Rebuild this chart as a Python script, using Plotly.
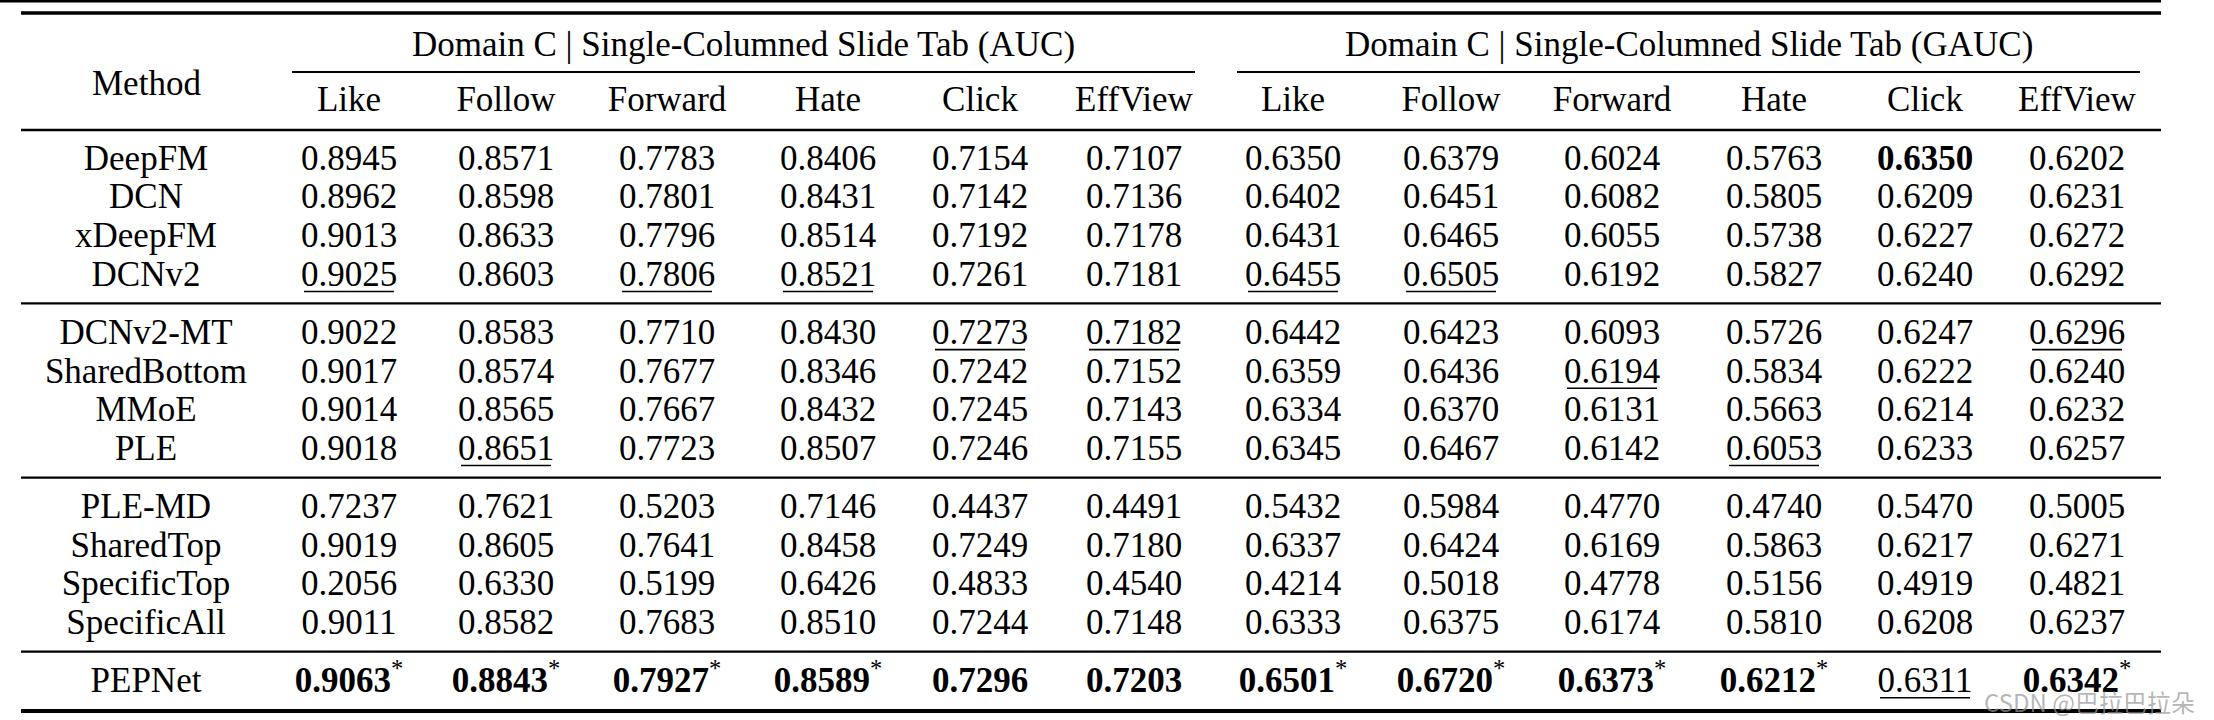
import plotly.graph_objects as go

# ---------------- data ----------------
methods = ["DeepFM", "DCN", "xDeepFM", "DCNv2",
           "DCNv2-MT", "SharedBottom", "MMoE", "PLE",
           "PLE-MD", "SharedTop", "SpecificTop", "SpecificAll",
           "PEPNet"]
method_group = [0, 0, 0, 0, 1, 1, 1, 1, 2, 2, 2, 2, 3]
tasks = ["Like", "Follow", "Forward", "Hate", "Click", "EffView"]
group_titles = ["Domain C | Single-Columned Slide Tab (AUC)",
                "Domain C | Single-Columned Slide Tab (GAUC)"]

auc_like    = [0.8945, 0.8962, 0.9013, 0.9025, 0.9022, 0.9017, 0.9014, 0.9018, 0.7237, 0.9019, 0.2056, 0.9011, 0.9063]
auc_follow  = [0.8571, 0.8598, 0.8633, 0.8603, 0.8583, 0.8574, 0.8565, 0.8651, 0.7621, 0.8605, 0.6330, 0.8582, 0.8843]
auc_forward = [0.7783, 0.7801, 0.7796, 0.7806, 0.7710, 0.7677, 0.7667, 0.7723, 0.5203, 0.7641, 0.5199, 0.7683, 0.7927]
auc_hate    = [0.8406, 0.8431, 0.8514, 0.8521, 0.8430, 0.8346, 0.8432, 0.8507, 0.7146, 0.8458, 0.6426, 0.8510, 0.8589]
auc_click   = [0.7154, 0.7142, 0.7192, 0.7261, 0.7273, 0.7242, 0.7245, 0.7246, 0.4437, 0.7249, 0.4833, 0.7244, 0.7296]
auc_effview = [0.7107, 0.7136, 0.7178, 0.7181, 0.7182, 0.7152, 0.7143, 0.7155, 0.4491, 0.7180, 0.4540, 0.7148, 0.7203]

gauc_like    = [0.6350, 0.6402, 0.6431, 0.6455, 0.6442, 0.6359, 0.6334, 0.6345, 0.5432, 0.6337, 0.4214, 0.6333, 0.6501]
gauc_follow  = [0.6379, 0.6451, 0.6465, 0.6505, 0.6423, 0.6436, 0.6370, 0.6467, 0.5984, 0.6424, 0.5018, 0.6375, 0.6720]
gauc_forward = [0.6024, 0.6082, 0.6055, 0.6192, 0.6093, 0.6194, 0.6131, 0.6142, 0.4770, 0.6169, 0.4778, 0.6174, 0.6373]
gauc_hate    = [0.5763, 0.5805, 0.5738, 0.5827, 0.5726, 0.5834, 0.5663, 0.6053, 0.4740, 0.5863, 0.5156, 0.5810, 0.6212]
gauc_click   = [0.6350, 0.6209, 0.6227, 0.6240, 0.6247, 0.6222, 0.6214, 0.6233, 0.5470, 0.6217, 0.4919, 0.6208, 0.6311]
gauc_effview = [0.6202, 0.6231, 0.6272, 0.6292, 0.6296, 0.6240, 0.6232, 0.6257, 0.5005, 0.6271, 0.4821, 0.6237, 0.6342]

auc_cols = [auc_like, auc_follow, auc_forward, auc_hate, auc_click, auc_effview]
gauc_cols = [gauc_like, gauc_follow, gauc_forward, gauc_hate, gauc_click, gauc_effview]

# emphasis marks: (metric block, task, method)
underlined = {(0, "Like", "DCNv2"), (0, "Forward", "DCNv2"), (0, "Hate", "DCNv2"),
              (0, "Click", "DCNv2-MT"), (0, "EffView", "DCNv2-MT"), (0, "Follow", "PLE"),
              (1, "Like", "DCNv2"), (1, "Follow", "DCNv2"), (1, "Forward", "SharedBottom"),
              (1, "EffView", "DCNv2-MT"), (1, "Hate", "PLE"), (1, "Click", "PEPNet")}
bold = {(1, "Click", "DeepFM")} | {(b, t, "PEPNet") for b in (0, 1) for t in tasks
                                   if not (b == 1 and t == "Click")}
starred = {(0, t, "PEPNet") for t in ["Like", "Follow", "Forward", "Hate"]} | \
          {(1, t, "PEPNet") for t in ["Like", "Follow", "Forward", "Hate", "EffView"]}

# ---------------- layout constants ----------------
W, H = 2214, 720
FONT = "Liberation Serif"
FS = 35
method_x = 146
col_x = [[349, 506, 667, 828, 980, 1134], [1293, 1451, 1612, 1774, 1925, 2077]]
cmid = [(292, 1195), (1237, 2140)]
first_row_y, pitch, group_gap = 158, 38.65, 19.5
text_dy = 3
title_y, header_y, method_y = 44, 102, 83
table_left, table_right = 21, 2161


def row_y(i):
    return first_row_y + i * pitch + method_group[i] * group_gap


fig = go.Figure()
shapes = []


def hline(x0, x1, y, w):
    shapes.append(dict(type="line", xref="x", yref="y", x0=x0, x1=x1, y0=y, y1=y,
                       line=dict(color="black", width=w)))


# method column
fig.add_trace(go.Scatter(x=[method_x] * len(methods),
                         y=[row_y(i) + text_dy for i in range(len(methods))],
                         text=methods, mode="text", textposition="middle center",
                         textfont=dict(family=FONT, size=FS, color="black"), hoverinfo="skip"))

# value columns
for b, cols in enumerate([auc_cols, gauc_cols]):
    for j, (task, vals) in enumerate(zip(tasks, cols)):
        texts = []
        for i, v in enumerate(vals):
            key = (b, task, methods[i])
            s = f"{v:.4f}"
            if key in bold:
                s = f"<b>{s}</b>"
            if key in starred:
                s = s + "<sup>*</sup>"
            texts.append(s)
            if key in underlined:
                hline(col_x[b][j] - 45, col_x[b][j] + 45, row_y(i) + 17.5, 1.6)
        fig.add_trace(go.Scatter(x=[col_x[b][j]] * len(vals),
                                 y=[row_y(i) + text_dy for i in range(len(vals))],
                                 text=texts, mode="text", textposition="middle center",
                                 textfont=dict(family=FONT, size=FS, color="black"), hoverinfo="skip"))
    # column headers
    fig.add_trace(go.Scatter(x=col_x[b], y=[header_y] * len(tasks), text=tasks, mode="text",
                             textposition="middle center",
                             textfont=dict(family=FONT, size=FS, color="black"), hoverinfo="skip"))

annotations = []
for b, title in enumerate(group_titles):
    annotations.append(dict(x=(cmid[b][0] + cmid[b][1]) / 2, y=title_y, xref="x", yref="y",
                            text=title, showarrow=False, xanchor="center", yanchor="middle",
                            font=dict(family=FONT, size=FS, color="black")))
    hline(cmid[b][0], cmid[b][1], 72, 2)

annotations.append(dict(x=method_x, y=method_y, xref="x", yref="y",
                        text="Method", showarrow=False, xanchor="center", yanchor="middle",
                        font=dict(family=FONT, size=FS, color="black")))

# booktabs-style rules
hline(0, table_right, 1, 3)
hline(table_left, table_right, 13, 3.5)
hline(table_left, table_right, 130, 2.5)
for g in range(3):
    last = max(i for i in range(len(methods)) if method_group[i] == g)
    hline(table_left, table_right, row_y(last) + 29.5, 2.3)
hline(table_left, table_right, 711, 4)

# watermark
annotations.append(dict(x=2197, y=701, xref="x", yref="y", text="CSDN @巴拉巴拉朵",
                        showarrow=False, xanchor="right", yanchor="middle",
                        font=dict(family="Noto Sans CJK SC", size=24, color="rgba(150,150,150,0.7)")))

fig.update_layout(
    width=W, height=H, margin=dict(l=0, r=0, t=0, b=0),
    paper_bgcolor="white", plot_bgcolor="white", showlegend=False,
    xaxis=dict(range=[0, W], visible=False, fixedrange=True),
    yaxis=dict(range=[H, 0], visible=False, fixedrange=True),
    shapes=shapes, annotations=annotations,
)

fig.write_html("out.html", config={"displayModeBar": False},
               post_script="document.body.style.margin='0';document.body.style.overflow='hidden';")
